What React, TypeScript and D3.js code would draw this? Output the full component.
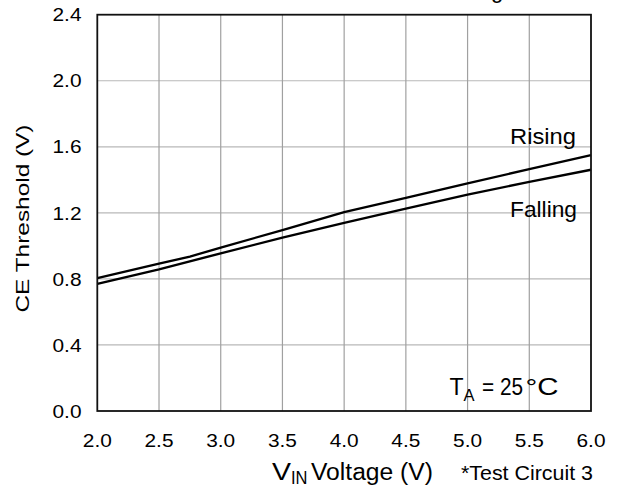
import React from "react";
import * as d3 from "d3";

const xTicks = [2.0, 2.5, 3.0, 3.5, 4.0, 4.5, 5.0, 5.5, 6.0];
const yTicks = [0.0, 0.4, 0.8, 1.2, 1.6, 2.0, 2.4];

const risingV = [2.0, 2.5, 2.75, 3.0, 3.5, 4.0, 4.5, 5.0, 5.5, 6.0];
const risingT = [0.805, 0.893, 0.935, 0.99, 1.095, 1.205, 1.29, 1.378, 1.465, 1.55];
const fallingV = [2.0, 2.5, 3.0, 3.5, 4.0, 4.5, 5.0, 5.5, 6.0];
const fallingT = [0.77, 0.858, 0.955, 1.05, 1.14, 1.225, 1.31, 1.388, 1.461];

const W = 622;
const H = 493;
const L = 97.3, R = 591, T = 14.7, B = 411;
const FONT = "Arial, 'Liberation Sans', Helvetica, sans-serif";

export default function App() {
  const x = d3.scaleLinear().domain([2, 6]).range([L, R]);
  const y = d3.scaleLinear().domain([0, 2.4]).range([B, T]);
  const line = d3
    .line<[number, number]>()
    .x((d) => x(d[0]))
    .y((d) => y(d[1]));
  const rising = risingV.map((v, i) => [v, risingT[i]] as [number, number]);
  const falling = fallingV.map((v, i) => [v, fallingT[i]] as [number, number]);

  return (
    <svg
      width={W}
      height={H}
      style={{ position: "absolute", left: 0, top: 0, background: "#fff" }}
      fontFamily={FONT}
    >
      <rect x={0} y={0} width={W} height={H} fill="#fff" />
      {/* clipped title fragment (cut off at the top edge in the reference) */}
      <text x={491} y={-2} fontSize={22} fill="#000">g</text>
      {/* grid */}
      {yTicks.slice(1, -1).map((t) => (
        <line key={"h" + t} x1={L} x2={R} y1={y(t)} y2={y(t)} stroke="#b8b8b8" strokeWidth={1.2} />
      ))}
      {xTicks.slice(1, -1).map((t) => (
        <line key={"v" + t} x1={x(t)} x2={x(t)} y1={T} y2={B} stroke="#a0a0a0" strokeWidth={1.2} />
      ))}
      {/* data lines */}
      <path d={line(rising) || ""} fill="none" stroke="#000" strokeWidth={2.3} />
      <path d={line(falling) || ""} fill="none" stroke="#000" strokeWidth={2.3} />
      {/* frame */}
      <rect x={L} y={T} width={R - L} height={B - T} fill="none" stroke="#111" strokeWidth={1.8} />
      {/* y tick labels */}
      {yTicks.map((t) => (
        <text
          key={"yl" + t}
          x={81.5}
          y={y(t)}
          dy="0.36em"
          textAnchor="end"
          fontSize={18.5}
          textLength={29}
          lengthAdjust="spacingAndGlyphs"
          fill="#000"
        >
          {t.toFixed(1)}
        </text>
      ))}
      {/* x tick labels */}
      {xTicks.map((t) => (
        <text
          key={"xl" + t}
          x={x(t)}
          y={447}
          textAnchor="middle"
          fontSize={18}
          textLength={29}
          lengthAdjust="spacingAndGlyphs"
          fill="#000"
        >
          {t.toFixed(1)}
        </text>
      ))}
      {/* y title */}
      <text
        transform={`translate(28.5, ${218.5}) rotate(-90)`}
        textAnchor="middle"
        fontSize={18.5}
        textLength={188}
        lengthAdjust="spacingAndGlyphs"
        fill="#000"
      >
        CE Threshold (V)
      </text>
      {/* x title */}
      <text x={272} y={480} fontSize={23} textLength={19} lengthAdjust="spacingAndGlyphs" fill="#000">V</text>
      <text x={291} y={483.5} fontSize={17.5} textLength={16.5} lengthAdjust="spacingAndGlyphs" fill="#000">IN</text>
      <text x={311} y={480} fontSize={23} textLength={122} lengthAdjust="spacingAndGlyphs" fill="#000">Voltage (V)</text>
      <text x={461} y={479.5} fontSize={20.5} textLength={132} lengthAdjust="spacingAndGlyphs" fill="#000">*Test Circuit 3</text>
      {/* series labels */}
      <text x={510} y={144.3} fontSize={22} textLength={66} lengthAdjust="spacingAndGlyphs" fill="#000">Rising</text>
      <text x={510} y={216.5} fontSize={22} textLength={67} lengthAdjust="spacingAndGlyphs" fill="#000">Falling</text>
      {/* temperature */}
      <text x={449.5} y={395} fontSize={23} fill="#000">T</text>
      <text x={463.5} y={400.5} fontSize={16.5} fill="#000">A</text>
      <text x={482} y={395} fontSize={23} textLength={41} lengthAdjust="spacingAndGlyphs" fill="#000">= 25</text>
      <text x={525.5} y={395} fontSize={23} textLength={33} lengthAdjust="spacingAndGlyphs" fill="#000">°C</text>
    </svg>
  );
}
